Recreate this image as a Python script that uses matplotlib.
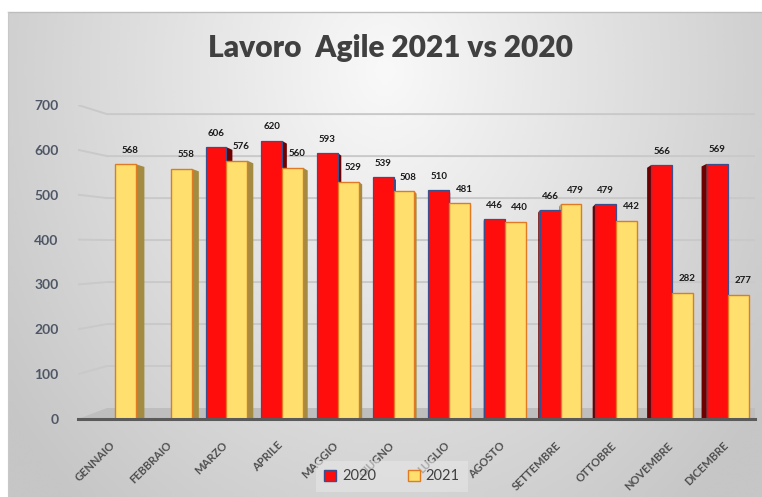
"""
Lavoro Agile 2021 vs 2020 - bar chart with a pseudo 3D look.
"""

import matplotlib
matplotlib.use('Agg')
import matplotlib.pyplot as plt
import matplotlib.transforms as mtrans
import numpy as np
from matplotlib.patches import Polygon, Patch

plt.rcParams['font.family'] = ['Lato', 'DejaVu Sans']

months = ['GENNAIO', 'FEBBRAIO', 'MARZO', 'APRILE', 'MAGGIO', 'GIUGNO',
          'LUGLIO', 'AGOSTO', 'SETTEMBRE', 'OTTOBRE', 'NOVEMBRE', 'DICEMBRE']
v2020 = [np.nan, np.nan, 606, 620, 593, 539, 510, 446, 466, 479, 566, 569]
v2021 = [568, 558, 576, 560, 529, 508, 481, 440, 479, 442, 282, 277]
yticks = [0, 100, 200, 300, 400, 500, 600, 700]

W, H = 762, 497
fig = plt.figure(figsize=(W / 100, H / 100), dpi=100)

# background panel with soft radial gradient
bg = fig.add_axes([0, 0, 1, 1])
bg.set_zorder(-2)
bg.set_xlim(0, W)
bg.set_ylim(H, 0)
bg.axis('off')
gx, gy = np.meshgrid(np.linspace(0, 1, 300), np.linspace(0, 1, 200))
r = np.sqrt(((gx - 0.5) / 0.5) ** 2 + ((gy - 0.12) / 0.95) ** 2)
shade = 0.975 - 0.16 * np.clip(r, 0, 1.25)
bg.imshow(shade, cmap='gray', vmin=0, vmax=1, extent=(8, W, H, 12),
          aspect='auto', interpolation='bicubic')
bg.plot([8, W], [12, 12], color='#bdbdbd', lw=1)
bg.plot([8, 8], [12, H], color='#c8c8c8', lw=0.8)

# main axes: group centre 0 at x=115 px, 55.7 px per month
px_per_x = 55.7
x_left, x_right = 78, 755
y_bot, y_top = 419, 105
ax = fig.add_axes([x_left / W, 1 - y_bot / H, (x_right - x_left) / W,
                   (y_bot - y_top) / H])
ax.set_facecolor('none')
xmin = (x_left - 115) / px_per_x
xmax = (x_right - 115) / px_per_x
ax.set_xlim(xmin, xmax)
ax.set_ylim(0, 700)
for s in ax.spines.values():
    s.set_visible(False)

# back wall gridlines with the slanted left part
back_x = (107 - 115) / px_per_x
def back(v):
    return 24.5 + v * 0.936

for v in yticks[1:]:
    ax.plot([xmin, back_x, xmax], [v, back(v), back(v)], color='#c9c9c9',
            lw=1.4, zorder=1)

# floor
ax.add_patch(Polygon([(xmin, 0), (back_x, back(0)), (xmax, back(0)),
                      (xmax, 0)], closed=True, facecolor='#bebebe',
                     edgecolor='none', zorder=1))
ax.plot([xmin, xmax], [0, 0], color='#5a5a5a', lw=2.2, zorder=4,
        clip_on=False)

w = 0.375
x = np.arange(len(months))
ax.bar(x - w, v2020, width=w, align='edge', color='#ff0d0d',
       edgecolor='#3b4f8c', linewidth=0.9, zorder=3)
ax.bar(x, v2021, width=w, align='edge', color='#ffdf6e',
       edgecolor='#e07b24', linewidth=1.0, zorder=3)

# side faces (depth)
for i in range(len(months)):
    dx = (6.8 - i) * 1.25 / px_per_x
    for val, x0, col in ((v2020[i], i - w, '#6e0000'),
                         (v2021[i], i, '#a38c42')):
        if np.isnan(val):
            continue
        edge = x0 + w if dx > 0 else x0
        ax.add_patch(Polygon([(edge, 0), (edge + dx, 0),
                              (edge + dx, val - 6), (edge, val)],
                             closed=True, facecolor=col, edgecolor='none',
                             zorder=2))

# data labels
lab_off = 31
for i in range(len(months)):
    if not np.isnan(v2020[i]):
        ax.text(i - w / 2, v2020[i] + lab_off, str(int(v2020[i])),
                ha='center', va='center', fontsize=7, fontweight='bold',
                color='#1a1a1a', zorder=5)
    ax.text(i + w / 2 + 0.08, v2021[i] + lab_off, str(v2021[i]),
            ha='center', va='center', fontsize=7, fontweight='bold',
            color='#1a1a1a', zorder=5)

ax.set_yticks(yticks)
ax.set_yticklabels([str(t) for t in yticks], fontsize=10, fontweight='bold',
                   color='#4f5766')
ax.tick_params(axis='y', length=0, pad=14)
ax.set_xticks(x)
ax.set_xticklabels(months, rotation=45, ha='right', rotation_mode='anchor',
                   fontsize=8, fontweight='bold', color='#505050')
ax.tick_params(axis='x', length=0, pad=15)
shift = mtrans.ScaledTranslation(-5 / 100, 0, fig.dpi_scale_trans)
for lbl in ax.get_xticklabels():
    lbl.set_transform(lbl.get_transform() + shift)

fig.text(390 / W, 1 - 48 / H, 'Lavoro  Agile 2021 vs 2020', ha='center',
         va='center', fontsize=21.5, fontweight='heavy', color='#404040')

handles = [Patch(facecolor='#ff0d0d', edgecolor='#3b4f8c', label='2020'),
           Patch(facecolor='#ffdf6e', edgecolor='#e07b24', label='2021')]
leg = fig.legend(handles=handles, loc='lower center', ncol=2,
                 bbox_to_anchor=(392 / W, -0.005), frameon=True,
                 fontsize=10.5, handlelength=0.8, handleheight=0.8,
                 handletextpad=0.4, columnspacing=2.2, borderpad=0.6,
                 fancybox=False, framealpha=0.6)
leg.get_frame().set_facecolor('#e6e6e6')
leg.get_frame().set_edgecolor('none')
for t in leg.get_texts():
    t.set_color('#404040')

fig.savefig('out.png', dpi=100)
